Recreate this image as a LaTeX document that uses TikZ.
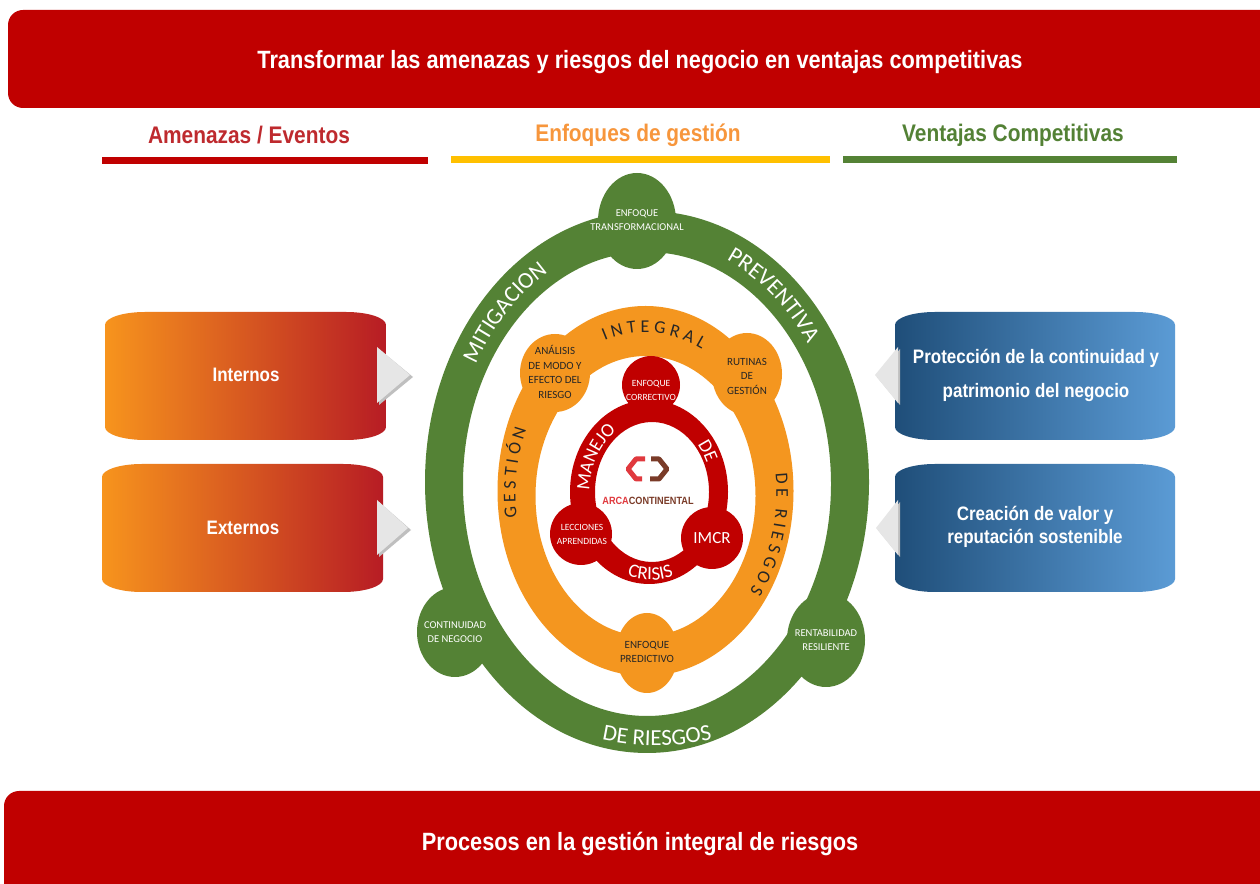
\documentclass[tikz,border=0pt]{standalone}
\usepackage{fontspec}
\setmainfont{Liberation Sans}
\newfontfamily\cond[FakeStretch=0.87]{Liberation Sans}
\newfontfamily\carl{Carlito}
\usetikzlibrary{decorations.text}
\definecolor{bannerred}{HTML}{C00000}
\definecolor{hred}{HTML}{BE2A2E}
\definecolor{horange}{HTML}{F7963C}
\definecolor{baryellow}{HTML}{FFC000}
\definecolor{hgreen}{HTML}{538135}
\definecolor{gring}{HTML}{548235}
\definecolor{oring}{HTML}{F4961F}
\definecolor{rring}{HTML}{C00000}
\definecolor{boxorange}{HTML}{F7941D}
\definecolor{boxred}{HTML}{B71C24}
\definecolor{boxdblue}{HTML}{1F4E79}
\definecolor{boxlblue}{HTML}{5B9BD5}
\definecolor{trigray}{HTML}{E6E6E6}
\definecolor{logored}{HTML}{E0393E}
\definecolor{logobrown}{HTML}{7A3B28}
\newcommand\grf{\carl\fontsize{23}{27}\selectfont\color{white}}
\newcommand\orf{\carl\fontsize{18}{21}\selectfont\color{black!85}}
\newcommand\rrf{\carl\fontsize{19}{22}\selectfont\color{white}}
\newcommand\ebox[5]{%
  \path[#1] (#2,#3+13) arc[start angle=180,end angle=270,x radius=40pt,y radius=13pt]
    -- (#4-40,#3) arc[start angle=270,end angle=360,x radius=40pt,y radius=13pt]
    -- (#4,#5-13) arc[start angle=0,end angle=90,x radius=40pt,y radius=13pt]
    -- (#2+40,#5) arc[start angle=90,end angle=180,x radius=40pt,y radius=13pt] -- cycle;}
\tikzset{
  bannertext/.style={text=white, font=\cond\bfseries\fontsize{25}{30}\selectfont},
  headtext/.style={font=\cond\bfseries\fontsize{24}{28}\selectfont},
  boxtext/.style={text=white, align=center, font=\cond\bfseries\fontsize{19.5}{23}\selectfont},
  gbump/.style={text=white, align=center, font=\carl\fontsize{10.5}{14}\selectfont},
  obump/.style={text=black!85, align=center, font=\carl\fontsize{11}{14.5}\selectfont},
  rbump/.style={text=white, align=center, font=\carl\fontsize{9.5}{14}\selectfont},
  ringtext/.style={decorate, decoration={text along path, text align=center, text={#1}}},
}
\begin{document}
\begin{tikzpicture}[x=1pt,y=1pt]
\useasboundingbox (0,0) rectangle (1260,883);
\fill[white] (0,0) rectangle (1260,883);

% banners
\fill[bannerred, rounded corners=15pt] (8,775) rectangle (1300,873);
\node[bannertext] (title) at (640,821) {Transformar las amenazas y riesgos del negocio en ventajas competitivas};
\fill[bannerred, rounded corners=15pt] (4,-40) rectangle (1300,92);
\node[bannertext] (footer) at (640,39) {Procesos en la gestión integral de riesgos};

% headings
\node[headtext, text=hred] (h1) at (249,748) {Amenazas / Eventos};
\fill[bannerred] (102,719) rectangle (428,726);
\node[headtext, text=horange] (h2) at (638,748) {Enfoques de gestión};
\fill[baryellow] (451,720) rectangle (830,727);
\node[headtext, text=hgreen] (h3) at (1013,748) {Ventajas Competitivas};
\fill[gring] (843,720) rectangle (1177,727);

% left boxes
\ebox{left color=boxorange, right color=boxred}{105}{443}{386}{571}
\ebox{left color=boxorange, right color=boxred}{102}{291}{383}{419}
\node[boxtext] (internos) at (246,508) {Internos};
\node[boxtext] (externos) at (243,355) {Externos};
\fill[black!25] (379,534) -- (413,506) -- (379,478) -- cycle;
\fill[trigray] (377,536) -- (410,508) -- (377,480) -- cycle;
\fill[black!25] (379,381) -- (411,353) -- (379,326) -- cycle;
\fill[trigray] (377,383) -- (408,355) -- (377,328) -- cycle;

% right boxes
\ebox{left color=boxdblue, right color=boxlblue}{895}{443}{1175}{571}
\ebox{left color=boxdblue, right color=boxlblue}{895}{291}{1175}{419}
\node[boxtext, font=\cond\bfseries\fontsize{19.5}{34}\selectfont] (proteccion) at (1036,508) {Protección de la continuidad y\\patrimonio del negocio};
\node[boxtext] (creacion) at (1035,356) {Creación de valor y\\reputación sostenible};
\fill[black!25] (900,534) -- (877,506) -- (900,478) -- cycle;
\fill[trigray] (898,536) -- (875,508) -- (898,480) -- cycle;
\fill[black!25] (900,381) -- (878,353) -- (900,326) -- cycle;
\fill[trigray] (898,383) -- (876,355) -- (898,328) -- cycle;

% green ring
\fill[gring, even odd rule] (647,401) ellipse [x radius=222pt, y radius=271pt]
                            (647,399) ellipse [x radius=184pt, y radius=232pt];
\fill[gring] (637,662) ellipse [x radius=39pt, y radius=48pt];
\fill[gring] (455,251) ellipse [x radius=38pt, y radius=45pt];
\fill[gring] (826,243) ellipse [x radius=39pt, y radius=47pt];
\node[gbump] (transf) at (637,663) {ENFOQUE\\TRANSFORMACIONAL};
\node[gbump] (contin) at (455,251) {CONTINUIDAD\\DE NEGOCIO};
\node[gbump] (rentab) at (826,243) {RENTABILIDAD\\RESILIENTE};
\path[ringtext={|\grf|MITIGACION}] (647,400) ++(173:196pt and 244pt)
   arc[start angle=173, end angle=94, x radius=196pt, y radius=244pt];
\path[ringtext={|\grf|PREVENTIVA}] (647,400) ++(91.5:196pt and 244pt)
   arc[start angle=91.5, end angle=13.5, x radius=196pt, y radius=244pt];
\path[ringtext={|\grf|DE RIESGOS}] (657,400) ++(240:260pt and 262.5pt)
   arc[start angle=240, end angle=300, x radius=260pt, y radius=262.5pt];

% orange ring
\fill[oring, even odd rule] (645.5,392) ellipse [x radius=148pt, y radius=185pt]
                            (645.5,387) ellipse [x radius=110pt, y radius=140pt];
\fill[oring] (555,510) ellipse [x radius=35pt, y radius=39pt];
\fill[oring] (747,509) ellipse [x radius=35pt, y radius=41pt];
\fill[oring] (647,230) ellipse [x radius=31pt, y radius=40pt];
\node[obump] (analisis) at (555,511) {ANÁLISIS\\DE MODO Y\\EFECTO DEL\\RIESGO};
\node[obump] (rutinas) at (747,507) {RUTINAS\\DE\\GESTIÓN};
\node[obump] (predictivo) at (647,231) {ENFOQUE\\PREDICTIVO};
\path[ringtext={|\orf|I N T E G R A L}] (645.5,389.5) ++(126.5:128pt and 161pt)
   arc[start angle=126.5, end angle=46.5, x radius=128pt, y radius=161pt];
\path[ringtext={|\orf|G E S T I Ó N}] (645.5,389.5) ++(212:130pt and 161pt)
   arc[start angle=212, end angle=132, x radius=130pt, y radius=161pt];
\path[ringtext={|\orf|D E}] (645.5,389.5) ++(23:131pt and 161pt)
   arc[start angle=23, end angle=-17, x radius=131pt, y radius=161pt];
\path[ringtext={|\orf|R I E S G O S}] (645.5,389.5) ++(8:131pt and 161pt)
   arc[start angle=8, end angle=-52, x radius=131pt, y radius=161pt];

% red ring
\fill[rring, even odd rule] (649,391) ellipse [x radius=79pt, y radius=92pt]
                            (652,391) ellipse [x radius=57pt, y radius=70pt];
\fill[rring] (651,498) circle [radius=29pt];
\fill[rring] (581,349) circle [radius=31pt];
\fill[rring] (712,345) circle [radius=31pt];
\node[rbump] (correctivo) at (651,493) {ENFOQUE\\CORRECTIVO};
\node[rbump] (lecciones) at (582,349) {LECCIONES\\APRENDIDAS};
\node[text=white, font=\carl\fontsize{17}{20}\selectfont] (imcr) at (712,345) {IMCR};
\path[ringtext={|\rrf|MANEJO}] (650.5,391) ++(195:61pt and 74pt)
   arc[start angle=195, end angle=105, x radius=61pt, y radius=74pt];
\path[ringtext={|\rrf|DE}] (650.5,391) ++(70:61pt and 74pt)
   arc[start angle=70, end angle=-4, x radius=61pt, y radius=74pt];
\path[ringtext={|\rrf|CRISIS}] (650.5,391) ++(225:75pt and 88pt)
   arc[start angle=225, end angle=315, x radius=75pt, y radius=88pt];

% logo
\draw[logored, line width=5pt, line join=round] (645,424) -- (636,424) -- (628,414) -- (636,404) -- (642,404);
\draw[logobrown, line width=5pt, line join=round] (651,424) -- (659,424) -- (667,414) -- (659,404) -- (650,404);
\node[font=\cond\bfseries\fontsize{10.5}{12}\selectfont, inner sep=0pt] (logotext) at (648,382)
  {\textcolor{logored}{ARCA}\textcolor{logobrown}{CONTINENTAL}};
\end{tikzpicture}
\end{document}
